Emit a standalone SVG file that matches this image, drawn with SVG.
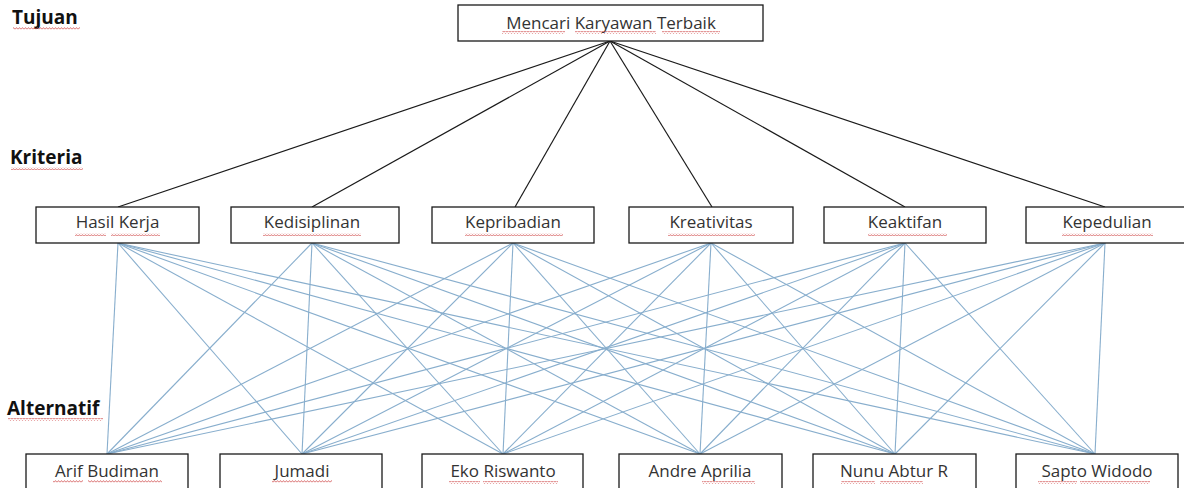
<svg xmlns="http://www.w3.org/2000/svg" width="1184" height="488" viewBox="0 0 1184 488">
<style>
.box{fill:#fff;stroke:#1a1a1a;stroke-width:1.3}
.t{font-family:"Open Sans","Noto Sans",sans-serif;font-size:17px;fill:#333;text-anchor:middle}
.lbl{font-family:"Open Sans","Noto Sans",sans-serif;font-size:19px;font-weight:bold;fill:#111}
.top line{stroke:#1a1a1a;stroke-width:1.2}
.low line{stroke:#88aecd;stroke-width:1.1}
.sq{fill:url(#wave)}
</style>
<defs>
<pattern id="wave" width="3" height="3" patternUnits="userSpaceOnUse">
<path d="M0,2.4 L1.5,0.6 L3,2.4" fill="none" stroke="#d25050" stroke-width="0.8"/>
</pattern>
</defs>
<rect width="1184" height="488" fill="#fff"/>

<g id="labels">
<text class="lbl" x="12" y="24">Tujuan</text>
<rect class="sq" x="13" y="27" width="67" height="3"/>
<text class="lbl" x="10" y="164">Kriteria</text>
<rect class="sq" x="11" y="167" width="72" height="3"/>
<text class="lbl" x="7" y="415">Alternatif</text>
<rect class="sq" x="8" y="418" width="95" height="3"/>
</g>

<g id="connectors">
<g class="top">
<line x1="610" y1="41" x2="118" y2="207"/>
<line x1="610" y1="41" x2="312" y2="207"/>
<line x1="610" y1="41" x2="515" y2="207"/>
<line x1="610" y1="41" x2="712" y2="207"/>
<line x1="610" y1="41" x2="905" y2="207"/>
<line x1="610" y1="41" x2="1105" y2="207"/>
</g>
<g class="low">
<line x1="118" y1="243" x2="107" y2="454"/><line x1="118" y1="243" x2="302" y2="454"/><line x1="118" y1="243" x2="503" y2="454"/><line x1="118" y1="243" x2="700" y2="454"/><line x1="118" y1="243" x2="895" y2="454"/><line x1="118" y1="243" x2="1095" y2="454"/>
<line x1="312" y1="243" x2="107" y2="454"/><line x1="312" y1="243" x2="302" y2="454"/><line x1="312" y1="243" x2="503" y2="454"/><line x1="312" y1="243" x2="700" y2="454"/><line x1="312" y1="243" x2="895" y2="454"/><line x1="312" y1="243" x2="1095" y2="454"/>
<line x1="513" y1="243" x2="107" y2="454"/><line x1="513" y1="243" x2="302" y2="454"/><line x1="513" y1="243" x2="503" y2="454"/><line x1="513" y1="243" x2="700" y2="454"/><line x1="513" y1="243" x2="895" y2="454"/><line x1="513" y1="243" x2="1095" y2="454"/>
<line x1="711" y1="243" x2="107" y2="454"/><line x1="711" y1="243" x2="302" y2="454"/><line x1="711" y1="243" x2="503" y2="454"/><line x1="711" y1="243" x2="700" y2="454"/><line x1="711" y1="243" x2="895" y2="454"/><line x1="711" y1="243" x2="1095" y2="454"/>
<line x1="905" y1="243" x2="107" y2="454"/><line x1="905" y1="243" x2="302" y2="454"/><line x1="905" y1="243" x2="503" y2="454"/><line x1="905" y1="243" x2="700" y2="454"/><line x1="905" y1="243" x2="895" y2="454"/><line x1="905" y1="243" x2="1095" y2="454"/>
<line x1="1105" y1="243" x2="107" y2="454"/><line x1="1105" y1="243" x2="302" y2="454"/><line x1="1105" y1="243" x2="503" y2="454"/><line x1="1105" y1="243" x2="700" y2="454"/><line x1="1105" y1="243" x2="895" y2="454"/><line x1="1105" y1="243" x2="1095" y2="454"/>
</g>
</g>

<g id="goal">
<rect class="box" x="458" y="5" width="305" height="36"/>
<text class="t" x="611" y="29">Mencari Karyawan Terbaik</text>
<rect class="sq" x="502" y="31" width="63" height="3"/>
<rect class="sq" x="575" y="31" width="81" height="3"/>
<rect class="sq" x="662" y="31" width="58" height="3"/>
</g>

<g id="c1"><rect class="box" x="36" y="207" width="163" height="36"/><text class="t" x="117.5" y="227.5">Hasil Kerja</text><rect class="sq" x="75" y="233" width="31" height="3"/><rect class="sq" x="111" y="233" width="49" height="3"/></g>
<g id="c2"><rect class="box" x="231" y="207" width="168" height="36"/><text class="t" x="312" y="227.5">Kedisiplinan</text><rect class="sq" x="263" y="233" width="98" height="3"/></g>
<g id="c3"><rect class="box" x="432" y="207" width="162" height="36"/><text class="t" x="513" y="228">Kepribadian</text><rect class="sq" x="465" y="233" width="98" height="3"/></g>
<g id="c4"><rect class="box" x="629" y="207" width="164" height="36"/><text class="t" x="711" y="228">Kreativitas</text><rect class="sq" x="668" y="233" width="87" height="3"/></g>
<g id="c5"><rect class="box" x="824" y="207" width="162" height="36"/><text class="t" x="905" y="228">Keaktifan</text><rect class="sq" x="868" y="233" width="79" height="3"/></g>
<g id="c6"><rect class="box" x="1026" y="207" width="163" height="36"/><text class="t" x="1107" y="228">Kepedulian</text><rect class="sq" x="1062" y="233" width="91" height="3"/></g>

<g id="a1"><rect class="box" x="26" y="454" width="162" height="40"/><text class="t" x="107" y="476.5">Arif Budiman</text><rect class="sq" x="53" y="480" width="30" height="3"/><rect class="sq" x="88" y="480" width="74" height="3"/></g>
<g id="a2"><rect class="box" x="220" y="454" width="162" height="40"/><text class="t" x="302" y="476.5">Jumadi</text><rect class="sq" x="272" y="480" width="60" height="3"/></g>
<g id="a3"><rect class="box" x="422" y="454" width="161" height="40"/><text class="t" x="503" y="476.5">Eko Riswanto</text><rect class="sq" x="449" y="481" width="31" height="3"/><rect class="sq" x="483" y="481" width="75" height="3"/></g>
<g id="a4"><rect class="box" x="619" y="454" width="163" height="40"/><text class="t" x="700" y="476.5">Andre Aprilia</text><rect class="sq" x="702" y="481" width="53" height="3"/></g>
<g id="a5"><rect class="box" x="813" y="454" width="163" height="40"/><text class="t" x="894" y="476.5">Nunu Abtur R</text><rect class="sq" x="841" y="481" width="34" height="3"/><rect class="sq" x="880" y="481" width="43" height="3"/></g>
<g id="a6"><rect class="box" x="1016" y="454" width="162" height="40"/><text class="t" x="1097" y="476.5">Sapto Widodo</text><rect class="sq" x="1038" y="481" width="39" height="3"/><rect class="sq" x="1080" y="481" width="70" height="3"/></g>
</svg>
